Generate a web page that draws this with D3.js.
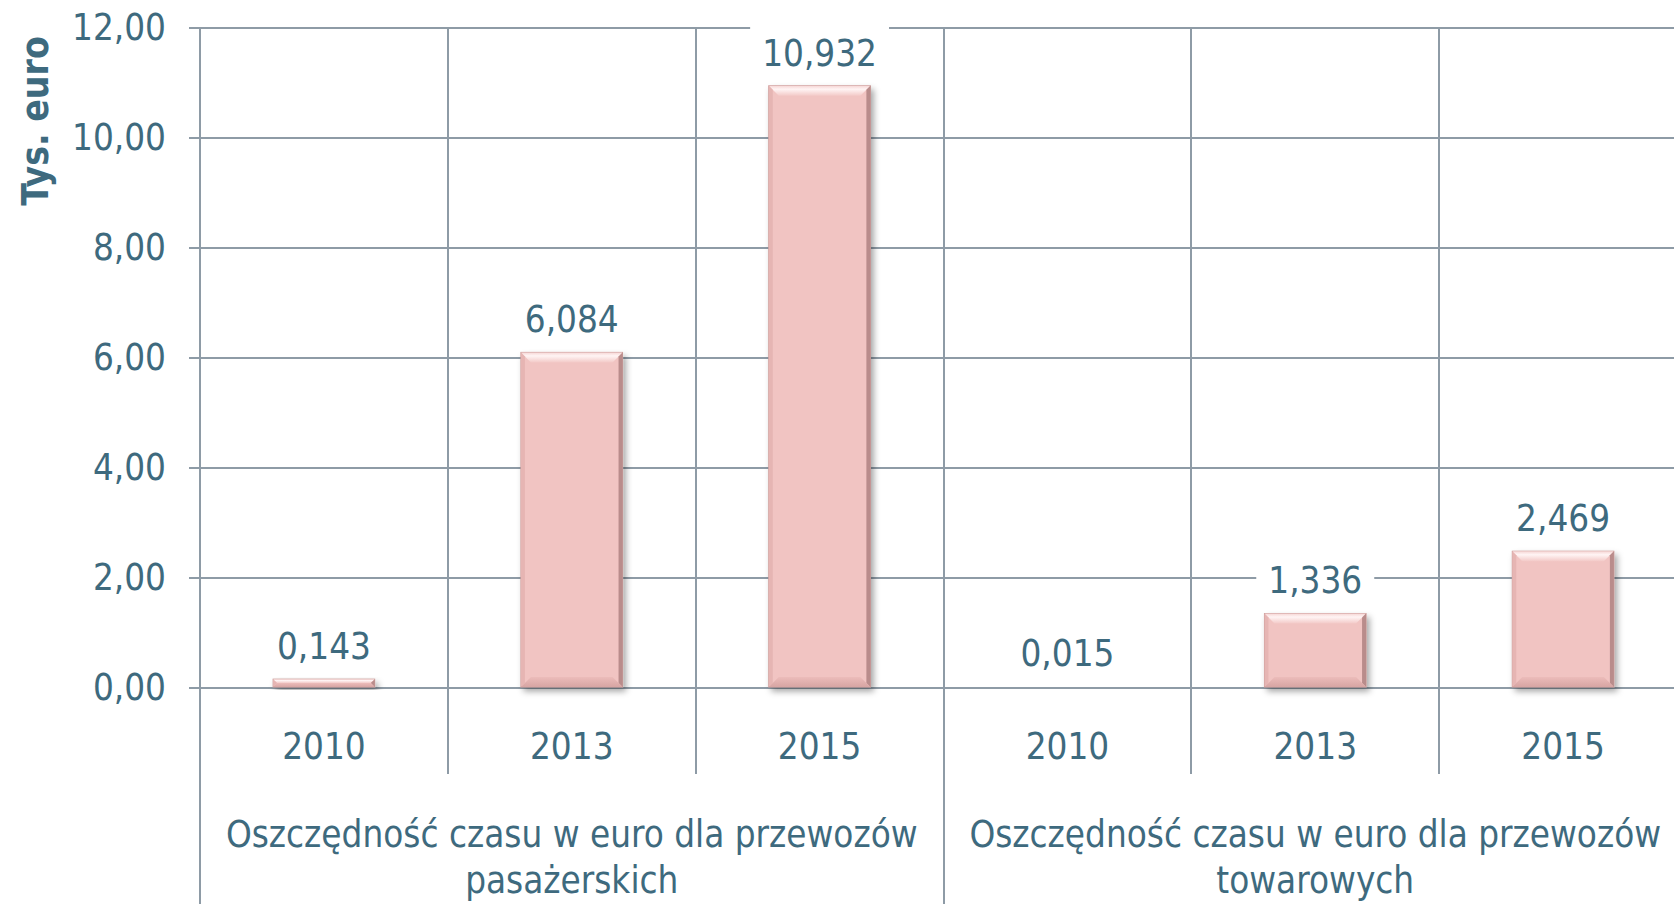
<!DOCTYPE html>
<html>
<head>
  <meta charset="utf-8">
  <title>Oszczędność czasu</title>
  <script src="https://cdn.jsdelivr.net/npm/d3@7/dist/d3.min.js"></script>
</head>
<style type="text/css">
  body {
    margin: 0;
    background-color: #ffffff;
  }

  text {
    font-family: "DejaVu Sans Condensed", "DejaVu Sans", sans-serif;
    font-stretch: condensed;
    fill: #3e6a7e;
  }

  .grid line {
    stroke: #8e9ba6;
    stroke-width: 2;
    shape-rendering: crispEdges;
  }

  .grid path {
    display: none;
  }
</style>

<body>
  <svg width="1674" height="904" id="mainsvg"></svg>
  <script>

    // data
    const groupLines = [
      ["Oszczędność czasu w euro dla przewozów", "pasażerskich"],
      ["Oszczędność czasu w euro dla przewozów", "towarowych"]
    ];
    const years = ["2010", "2013", "2015"];
    const passengerValues = [0.143, 6.084, 10.932];
    const freightValues = [0.015, 1.336, 2.469];
    const yTicks = [0, 2, 4, 6, 8, 10, 12];
    const yTitle = "Tys. euro";

    const svg = d3.select('#mainsvg');
    const width = +svg.attr('width');
    const height = +svg.attr('height');
    const fontSize = '36.5px';

    // plot area runs past the right edge, like in the original
    const plot = { left: 200, right: 1687, top: 27, bottom: 687 };
    const catLineEnd = 774;

    const rows = [];
    [passengerValues, freightValues].forEach((vals, g) => {
      vals.forEach((v, i) => rows.push({ id: g * 3 + i, group: g, year: years[i], value: v }));
    });

    const pl = d3.formatLocale({ decimal: ",", thousands: " ", grouping: [3], currency: ["", " €"] });
    const fmtTick = pl.format(".2f");
    const fmtVal = pl.format(".3f");

    const xScale = d3.scaleBand()
      .domain(rows.map(d => d.id))
      .range([plot.left, plot.right])
      .paddingInner(0)
      .paddingOuter(0);

    const yScale = d3.scaleLinear()
      .domain([0, 12])
      .range([plot.bottom, plot.top]);

    const barW = xScale.bandwidth() * 0.41;

    // defs: shadow + bevel gradients
    const defs = svg.append('defs');
    const shadow = defs.append('filter').attr('id', 'shadow')
      .attr('x', '-20%').attr('y', '-20%').attr('width', '150%').attr('height', '150%');
    shadow.append('feDropShadow')
      .attr('dx', 3).attr('dy', 4).attr('stdDeviation', 3)
      .attr('flood-color', '#000').attr('flood-opacity', 0.35);

    const topGrad = defs.append('linearGradient').attr('id', 'topBevel')
      .attr('x1', 0).attr('y1', 0).attr('x2', 0).attr('y2', 1);
    topGrad.append('stop').attr('offset', '0%').attr('stop-color', '#f6d6d5');
    topGrad.append('stop').attr('offset', '35%').attr('stop-color', '#fff4f4');
    topGrad.append('stop').attr('offset', '100%').attr('stop-color', '#f3cac8');
    const botGrad = defs.append('linearGradient').attr('id', 'botBevel')
      .attr('x1', 0).attr('y1', 0).attr('x2', 0).attr('y2', 1);
    botGrad.append('stop').attr('offset', '0%').attr('stop-color', '#ecbcba');
    botGrad.append('stop').attr('offset', '100%').attr('stop-color', '#d7a5a3');

    // horizontal gridlines
    svg.append('g')
      .attr('class', 'grid')
      .attr('transform', `translate(${plot.left},0)`)
      .call(d3.axisLeft(yScale).tickValues(yTicks).tickSize(-(plot.right - plot.left)).tickFormat(''));

    // y axis with outward ticks and labels
    const yAxisG = svg.append('g')
      .attr('class', 'grid')
      .attr('transform', `translate(${plot.left},0)`)
      .call(d3.axisLeft(yScale).tickValues(yTicks).tickSize(11).tickPadding(23).tickFormat(fmtTick));
    yAxisG.selectAll('text')
      .attr('fill', '#3e6a7e')
      .style('font-size', fontSize)
      .attr('dy', '0.35em');

    // vertical lines: axis, category separators, group separators
    const vLines = d3.range(0, rows.length).map(i => ({
      x: xScale(i),
      end: i % 3 === 0 ? height : catLineEnd
    }));
    svg.append('g').selectAll('line')
      .data(vLines)
      .enter()
      .append('line')
      .attr('x1', d => Math.round(d.x))
      .attr('x2', d => Math.round(d.x))
      .attr('y1', plot.top)
      .attr('y2', d => d.end)
      .attr('stroke', '#8e9ba6')
      .attr('stroke-width', 2)
      .style('shape-rendering', 'crispEdges');

    // bars with a bevel
    const bars = svg.append('g').selectAll('g')
      .data(rows.filter(d => yScale(0) - yScale(d.value) >= 1.5))
      .enter()
      .append('g');

    const bx = d => xScale(d.id) + (xScale.bandwidth() - barW) / 2;
    const by = d => yScale(d.value);
    const bh = d => yScale(0) - yScale(d.value);
    const bev = d => Math.min(10, bh(d) / 2);

    bars.append('rect')
      .attr('x', bx)
      .attr('y', by)
      .attr('width', barW)
      .attr('height', bh)
      .attr('fill', '#f1c4c2')
      .attr('stroke', '#c99a98')
      .attr('stroke-width', 1)
      .attr('filter', 'url(#shadow)');

    const poly = (pts) => pts.map(p => p.join(',')).join(' ');
    // top bevel (light)
    bars.append('polygon')
      .attr('points', d => {
        const x0 = bx(d), x1 = bx(d) + barW, y0 = by(d), b = bev(d);
        return poly([[x0, y0], [x1, y0], [x1 - b, y0 + b], [x0 + b, y0 + b]]);
      })
      .attr('fill', 'url(#topBevel)');
    // left bevel
    bars.append('polygon')
      .attr('points', d => {
        const x0 = bx(d), y0 = by(d), y1 = by(d) + bh(d), b = Math.min(4, bev(d));
        return poly([[x0, y0], [x0 + b, y0 + b], [x0 + b, y1 - b], [x0, y1]]);
      })
      .attr('fill', '#e6b5b3');
    // right bevel (dark)
    bars.append('polygon')
      .attr('points', d => {
        const x1 = bx(d) + barW, y0 = by(d), y1 = by(d) + bh(d), b = Math.min(4, bev(d));
        return poly([[x1, y0], [x1, y1], [x1 - b, y1 - b], [x1 - b, y0 + b]]);
      })
      .attr('fill', '#b98c8b');
    // bottom bevel
    bars.append('polygon')
      .attr('points', d => {
        const x0 = bx(d), x1 = bx(d) + barW, y1 = by(d) + bh(d), b = bev(d);
        return poly([[x0, y1], [x0 + b, y1 - b], [x1 - b, y1 - b], [x1, y1]]);
      })
      .attr('fill', 'url(#botBevel)');

    // value labels on white boxes
    const labels = svg.append('g').selectAll('g')
      .data(rows)
      .enter()
      .append('g')
      .attr('transform', d => `translate(${xScale(d.id) + xScale.bandwidth() / 2},${yScale(d.value) - 33})`);
    labels.append('text')
      .attr('text-anchor', 'middle')
      .attr('dy', '0.35em')
      .style('font-size', fontSize)
      .text(d => fmtVal(d.value));
    labels.each(function () {
      const g = d3.select(this);
      const bb = g.select('text').node().getBBox();
      g.insert('rect', 'text')
        .attr('x', bb.x - 12)
        .attr('y', bb.y - 6)
        .attr('width', bb.width + 24)
        .attr('height', bb.height + 10)
        .attr('fill', '#ffffff');
    });

    // year labels
    svg.append('g').selectAll('text')
      .data(rows)
      .enter()
      .append('text')
      .attr('x', d => xScale(d.id) + xScale.bandwidth() / 2)
      .attr('y', 746)
      .attr('dy', '0.35em')
      .attr('text-anchor', 'middle')
      .style('font-size', fontSize)
      .text(d => d.year);

    // group labels (two lines)
    const groupText = svg.append('g').selectAll('text')
      .data(groupLines)
      .enter()
      .append('text')
      .attr('text-anchor', 'middle')
      .style('font-size', fontSize)
      .attr('transform', (d, g) => `translate(${(xScale(g * 3) + xScale(g * 3 + 2) + xScale.bandwidth()) / 2},0)`);
    groupText.selectAll('tspan')
      .data(d => d)
      .enter()
      .append('tspan')
      .attr('x', 0)
      .attr('y', (d, i) => 834 + i * 46)
      .attr('dy', '0.35em')
      .text(d => d);

    // y axis title
    svg.append('text')
      .attr('transform', `translate(35,121) rotate(-90)`)
      .attr('text-anchor', 'middle')
      .attr('dy', '0.35em')
      .style('font-size', '37px')
      .style('font-weight', 'bold')
      .attr('fill', '#3d6a7e')
      .text(yTitle);

  </script>
</body>

</html>
